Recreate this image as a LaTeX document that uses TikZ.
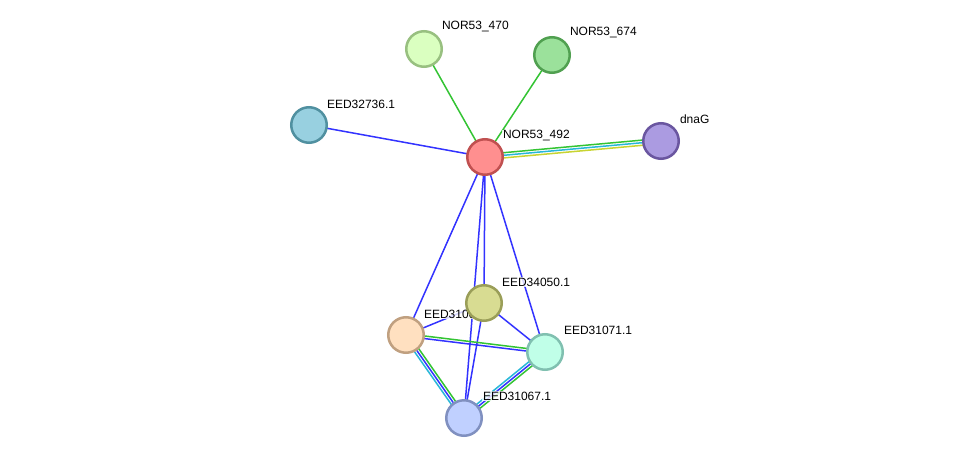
\documentclass[tikz,border=0pt]{standalone}
\usepackage{fontspec}
\setmainfont{Liberation Sans}
\usepackage{tikz}
\usetikzlibrary{calc}
\definecolor{edgegreen}{RGB}{51, 196, 51}
\definecolor{edgeblue}{RGB}{51, 51, 255}
\definecolor{edgecyan}{RGB}{40, 184, 216}
\definecolor{edgeyellow}{RGB}{200, 212, 50}
\pgfdeclarelayer{bg}
\pgfdeclarelayer{edges}
\pgfdeclarelayer{labels}
\pgfsetlayers{bg,edges,labels,main}
\newcommand\pedge[4]{\draw[edge,#1] ($(#3)!#2!90:(#4)$) -- ($(#4)!#2!-90:(#3)$);}

\begin{document}
\begin{tikzpicture}[x=1pt, y=-1pt,
    prot/.style={circle, minimum size=35.5pt, inner sep=0pt, line width=2.5pt},
    lbl/.style={anchor=west, font=\fontsize{12}{12}\selectfont, fill=white, fill opacity=0.8, text opacity=1, inner sep=0.8pt},
    edge/.style={line width=1.5pt}]
    \begin{pgfonlayer}{bg}
    \fill[white] (0,0) rectangle (975,463);
    \end{pgfonlayer}
    \useasboundingbox (0,0) rectangle (975,463);

    % Proteins
    \node[prot, fill={rgb,255:red,255;green,143;blue,143}, draw={rgb,255:red,192;green,80;blue,80}] (n492) at (485,157) {};
    \node[prot, fill={rgb,255:red,218;green,255;blue,192}, draw={rgb,255:red,152;green,192;blue,128}] (n470) at (424,49) {};
    \node[prot, fill={rgb,255:red,155;green,225;blue,155}, draw={rgb,255:red,80;green,160;blue,80}] (n674) at (552,55) {};
    \node[prot, fill={rgb,255:red,152;green,208;blue,224}, draw={rgb,255:red,80;green,144;blue,160}] (e32736) at (309,125) {};
    \node[prot, fill={rgb,255:red,171;green,155;blue,225}, draw={rgb,255:red,106;green,86;blue,160}] (dnag) at (661,141) {};
    \node[prot, fill={rgb,255:red,255;green,224;blue,192}, draw={rgb,255:red,192;green,160;blue,128}] (e310) at (406,335) {};
    \node[prot, fill={rgb,255:red,216;green,220;blue,146}, draw={rgb,255:red,154;green,158;blue,88}] (e34050) at (484,303) {};
    \node[prot, fill={rgb,255:red,192;green,255;blue,232}, draw={rgb,255:red,128;green,192;blue,176}] (e31071) at (545,352) {};
    \node[prot, fill={rgb,255:red,192;green,208;blue,255}, draw={rgb,255:red,128;green,144;blue,192}] (e31067) at (464,418) {};

    % Labels
    \begin{pgfonlayer}{labels}
    \node[lbl] (l492) at ($(n492)+(17,-21)$) {NOR53\_492};
    \node[lbl] (l470) at ($(n470)+(17,-22)$) {NOR53\_470};
    \node[lbl] (l674) at ($(n674)+(17,-22)$) {NOR53\_674};
    \node[lbl] (l32736) at ($(e32736)+(17,-21)$) {EED32736.1};
    \node[lbl] (ldnag) at ($(dnag)+(18,-22)$) {dnaG};
    \node[lbl] (l310) at ($(e310)+(17,-21)$) {EED31069.1};
    \node[lbl] (l34050) at ($(e34050)+(17,-21)$) {EED34050.1};
    \node[lbl] (l31071) at ($(e31071)+(18,-22)$) {EED31071.1};
    \node[lbl] (l31067) at ($(e31067)+(18,-22)$) {EED31067.1};
    \end{pgfonlayer}

    % Interactions
    \begin{pgfonlayer}{edges}
    \draw[edge, edgegreen] (n492.center) -- (n470.center);
    \draw[edge, edgegreen] (n492.center) -- (n674.center);
    \draw[edge, edgeblue] (n492.center) -- (e32736.center);
    \pedge{edgegreen}{2.6pt}{n492}{dnag}
    \pedge{edgecyan}{0pt}{n492}{dnag}
    \pedge{edgeyellow}{-2.6pt}{n492}{dnag}
    \draw[edge, edgeblue] (n492.center) -- (e34050.center);
    \draw[edge, edgeblue] (n492.center) -- (e31067.center);
    \draw[edge, edgeblue] (n492.center) -- (e310.center);
    \draw[edge, edgeblue] (n492.center) -- (e31071.center);
    \draw[edge, edgeblue] (e34050.center) -- (e310.center);
    \draw[edge, edgeblue] (e34050.center) -- (e31071.center);
    \draw[edge, edgeblue] (e34050.center) -- (e31067.center);
    \pedge{edgegreen}{1.3pt}{e310}{e31071}
    \pedge{edgeblue}{-1.3pt}{e310}{e31071}
    \pedge{edgegreen}{2.6pt}{e310}{e31067}
    \pedge{edgeblue}{0pt}{e310}{e31067}
    \pedge{edgecyan}{-2.6pt}{e310}{e31067}
    \pedge{edgegreen}{2.6pt}{e31071}{e31067}
    \pedge{edgeblue}{0pt}{e31071}{e31067}
    \pedge{edgecyan}{-2.6pt}{e31071}{e31067}
    \end{pgfonlayer}
\end{tikzpicture}
\end{document}
